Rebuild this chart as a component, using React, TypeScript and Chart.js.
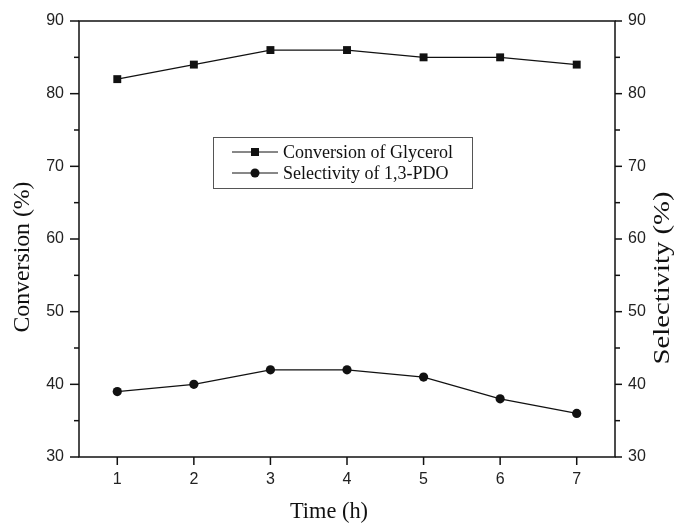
import React, { useEffect, useRef } from "react";
import { Chart, registerables } from "chart.js";

Chart.register(...registerables);

const times = [1, 2, 3, 4, 5, 6, 7];
const conversion = [82, 84, 86, 86, 85, 85, 84];
const selectivity = [39, 40, 42, 42, 41, 38, 36];
const yTicks = [30, 40, 50, 60, 70, 80, 90];
const yMinorTicks = [35, 45, 55, 65, 75, 85];
const seriesNames = ["Conversion of Glycerol", "Selectivity of 1,3-PDO"];
const xTitle = "Time (h)";
const yLeftTitle = "Conversion (%)";
const yRightTitle = "Selectivity (%)";

const SANS = "'Liberation Sans', Arial, sans-serif";
const SERIF = "'Liberation Serif', 'Times New Roman', serif";
const INK = "#111";

function fitText(ctx: any, text: string, cx: number, cy: number, size: number, width: number, rot: number) {
  ctx.save();
  ctx.font = `${size}px ${SERIF}`;
  const w = ctx.measureText(text).width;
  ctx.translate(cx, cy);
  ctx.rotate(rot);
  ctx.scale(width / w, 1);
  ctx.textAlign = "center";
  ctx.textBaseline = "middle";
  ctx.fillText(text, 0, 0);
  ctx.restore();
}

const framePlugin = {
  id: "frame",
  afterDraw(chart: any) {
    const { ctx, chartArea: a, scales } = chart;
    const x = scales.x;
    const y = scales.y;
    const y2 = scales.y2;
    ctx.save();
    ctx.strokeStyle = INK;
    ctx.lineWidth = 1.5;
    ctx.strokeRect(a.left, a.top, a.right - a.left, a.bottom - a.top);

    ctx.fillStyle = "#222";
    ctx.font = `16px ${SANS}`;
    ctx.textBaseline = "middle";
    yTicks.forEach((v) => {
      const py = y.getPixelForValue(v);
      ctx.beginPath();
      ctx.moveTo(a.left - 9, py);
      ctx.lineTo(a.left, py);
      ctx.stroke();
      ctx.textAlign = "right";
      ctx.fillText(String(v), a.left - 15, py);
      const py2 = y2.getPixelForValue(v);
      ctx.beginPath();
      ctx.moveTo(a.right, py2);
      ctx.lineTo(a.right + 7, py2);
      ctx.stroke();
      ctx.textAlign = "left";
      ctx.fillText(String(v), a.right + 13, py2);
    });
    yMinorTicks.forEach((v) => {
      const py = y.getPixelForValue(v);
      ctx.beginPath();
      ctx.moveTo(a.left - 5, py);
      ctx.lineTo(a.left, py);
      ctx.stroke();
      const py2 = y2.getPixelForValue(v);
      ctx.beginPath();
      ctx.moveTo(a.right, py2);
      ctx.lineTo(a.right + 5, py2);
      ctx.stroke();
    });
    ctx.textAlign = "center";
    times.forEach((t) => {
      const px = x.getPixelForValue(t);
      ctx.beginPath();
      ctx.moveTo(px, a.bottom);
      ctx.lineTo(px, a.bottom + 8);
      ctx.stroke();
      ctx.fillText(String(t), px, a.bottom + 23);
    });

    // axis titles
    ctx.fillStyle = INK;
    fitText(ctx, xTitle, 329, 512, 23, 78, 0);
    fitText(ctx, yLeftTitle, 23, 257, 24, 151, -Math.PI / 2);
    fitText(ctx, yRightTitle, 663, 278, 24, 173, -Math.PI / 2);

    // legend
    const lx = 213, ly = 137, lw = 259, lh = 51;
    ctx.lineWidth = 1;
    ctx.strokeStyle = "#555";
    ctx.strokeRect(lx + 0.5, ly + 0.5, lw, lh);
    ctx.strokeStyle = INK;
    ctx.fillStyle = INK;
    ctx.font = `18px ${SERIF}`;
    ctx.textAlign = "left";
    const rows = [ly + 15, ly + 36];
    rows.forEach((ry, i) => {
      ctx.beginPath();
      ctx.moveTo(232, ry);
      ctx.lineTo(278, ry);
      ctx.stroke();
      if (i === 0) {
        ctx.fillRect(251, ry - 4, 8, 8);
      } else {
        ctx.beginPath();
        ctx.arc(255, ry, 4.5, 0, Math.PI * 2);
        ctx.fill();
      }
      ctx.fillText(seriesNames[i], 283, ry + 1);
    });
    ctx.restore();
  },
};

export default function App() {
  const ref = useRef<HTMLCanvasElement>(null);
  useEffect(() => {
    document.body.style.margin = "0";
    const canvas = ref.current!;
    const chart = new Chart(canvas, {
      type: "line",
      data: {
        datasets: [
          {
            label: seriesNames[0],
            data: times.map((t, i) => ({ x: t, y: conversion[i] })),
            yAxisID: "y",
            borderColor: INK,
            backgroundColor: INK,
            borderWidth: 1.2,
            pointStyle: "rect",
            pointRadius: 5.6,
            pointBorderWidth: 0,
          },
          {
            label: seriesNames[1],
            data: times.map((t, i) => ({ x: t, y: selectivity[i] })),
            yAxisID: "y2",
            borderColor: INK,
            backgroundColor: INK,
            borderWidth: 1.2,
            pointStyle: "circle",
            pointRadius: 4.6,
            pointBorderWidth: 0,
          },
        ],
      },
      options: {
        responsive: false,
        animation: false,
        devicePixelRatio: 1,
        layout: { padding: { top: 21, left: 0, right: 0, bottom: 0 } },
        plugins: { legend: { display: false }, tooltip: { enabled: false } },
        scales: {
          x: {
            type: "linear",
            min: 0.5,
            max: 7.5,
            grid: { display: false },
            border: { display: false },
            ticks: { display: false },
            afterFit: (s: any) => { s.height = 67; },
          },
          y: {
            position: "left",
            min: 30,
            max: 90,
            grid: { display: false },
            border: { display: false },
            ticks: { display: false },
            afterFit: (s: any) => { s.width = 79; },
          },
          y2: {
            position: "right",
            min: 30,
            max: 90,
            grid: { display: false },
            border: { display: false },
            ticks: { display: false },
            afterFit: (s: any) => { s.width = 61; },
          },
        },
      },
      plugins: [framePlugin],
    } as any);
    return () => chart.destroy();
  }, []);
  return (
    <div style={{ width: 676, height: 524, background: "#fff" }}>
      <canvas ref={ref} width={676} height={524} style={{ display: "block" }} />
    </div>
  );
}
